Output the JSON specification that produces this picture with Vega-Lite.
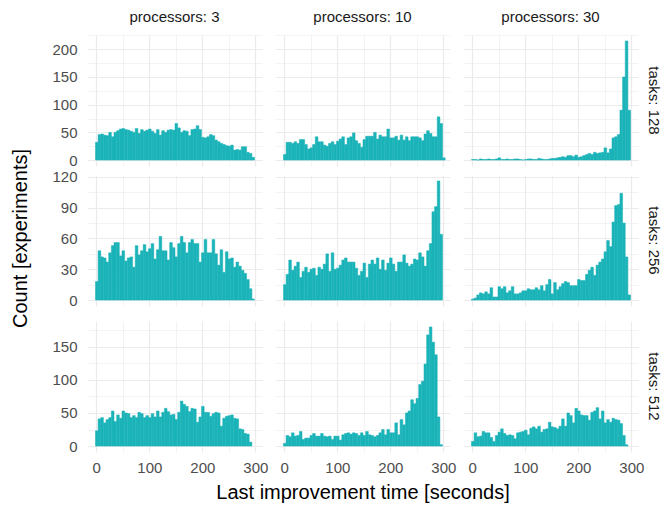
{
"$schema": "https://vega.github.io/schema/vega-lite/v6.json",
"padding": {"left": 10, "top": 10, "right": 5, "bottom": 3},
"title": {"text": "Count [experiments]", "orient": "left", "anchor": "middle", "offset": 21, "dx": 18, "font": "Liberation Sans", "fontSize": 20, "fontWeight": "normal", "color": "#000000"},
"config": {
  "view": {"stroke": null},
  "font": "Liberation Sans",
  "axis": {"gridColor": "#EBEBEB", "domain": false, "ticks": false, "labelFont": "Liberation Sans", "labelFontSize": 15, "labelColor": "#4D4D4D", "titleFont": "Liberation Sans", "titleFontSize": 20, "titleColor": "#000000", "titleFontWeight": "normal"},
  "header": {"labelFont": "Liberation Sans", "labelFontSize": 15, "labelColor": "#1A1A1A", "titleFont": "Liberation Sans", "titleFontSize": 20, "titleColor": "#000000", "titleFontWeight": "normal"}
},
"data": {"values": [
{"k":128,"p":3,"s":-2.5,"n":32},{"k":128,"p":3,"s":2.5,"n":46},{"k":128,"p":3,"s":7.5,"n":47},{"k":128,"p":3,"s":12.5,"n":45},{"k":128,"p":3,"s":17.5,"n":44},{"k":128,"p":3,"s":22.5,"n":50},{"k":128,"p":3,"s":27.5,"n":42},{"k":128,"p":3,"s":32.5,"n":50},{"k":128,"p":3,"s":37.5,"n":53},{"k":128,"p":3,"s":42.5,"n":56},
{"k":128,"p":3,"s":47.5,"n":57},{"k":128,"p":3,"s":52.5,"n":55},{"k":128,"p":3,"s":57.5,"n":54},{"k":128,"p":3,"s":62.5,"n":52},{"k":128,"p":3,"s":67.5,"n":50},{"k":128,"p":3,"s":72.5,"n":57},{"k":128,"p":3,"s":77.5,"n":48},{"k":128,"p":3,"s":82.5,"n":55},{"k":128,"p":3,"s":87.5,"n":52},{"k":128,"p":3,"s":92.5,"n":54},
{"k":128,"p":3,"s":97.5,"n":56},{"k":128,"p":3,"s":102.5,"n":52},{"k":128,"p":3,"s":107.5,"n":48},{"k":128,"p":3,"s":112.5,"n":55},{"k":128,"p":3,"s":117.5,"n":45},{"k":128,"p":3,"s":122.5,"n":53},{"k":128,"p":3,"s":127.5,"n":50},{"k":128,"p":3,"s":132.5,"n":54},{"k":128,"p":3,"s":137.5,"n":55},{"k":128,"p":3,"s":142.5,"n":54},
{"k":128,"p":3,"s":147.5,"n":66},{"k":128,"p":3,"s":152.5,"n":58},{"k":128,"p":3,"s":157.5,"n":50},{"k":128,"p":3,"s":162.5,"n":53},{"k":128,"p":3,"s":167.5,"n":52},{"k":128,"p":3,"s":172.5,"n":44},{"k":128,"p":3,"s":177.5,"n":55},{"k":128,"p":3,"s":182.5,"n":56},{"k":128,"p":3,"s":187.5,"n":62},{"k":128,"p":3,"s":192.5,"n":55},
{"k":128,"p":3,"s":197.5,"n":41},{"k":128,"p":3,"s":202.5,"n":40},{"k":128,"p":3,"s":207.5,"n":42},{"k":128,"p":3,"s":212.5,"n":46},{"k":128,"p":3,"s":217.5,"n":44},{"k":128,"p":3,"s":222.5,"n":36},{"k":128,"p":3,"s":227.5,"n":33},{"k":128,"p":3,"s":232.5,"n":30},{"k":128,"p":3,"s":237.5,"n":28},{"k":128,"p":3,"s":242.5,"n":26},
{"k":128,"p":3,"s":247.5,"n":25},{"k":128,"p":3,"s":252.5,"n":27},{"k":128,"p":3,"s":257.5,"n":18},{"k":128,"p":3,"s":262.5,"n":19},{"k":128,"p":3,"s":267.5,"n":18},{"k":128,"p":3,"s":272.5,"n":24},{"k":128,"p":3,"s":277.5,"n":24},{"k":128,"p":3,"s":282.5,"n":14},{"k":128,"p":3,"s":287.5,"n":12},{"k":128,"p":3,"s":292.5,"n":5},

{"k":128,"p":10,"s":-2.5,"n":10},{"k":128,"p":10,"s":2.5,"n":32},{"k":128,"p":10,"s":7.5,"n":32},{"k":128,"p":10,"s":12.5,"n":30},{"k":128,"p":10,"s":17.5,"n":33},{"k":128,"p":10,"s":22.5,"n":30},{"k":128,"p":10,"s":27.5,"n":37},{"k":128,"p":10,"s":32.5,"n":37},{"k":128,"p":10,"s":37.5,"n":28},{"k":128,"p":10,"s":42.5,"n":20},
{"k":128,"p":10,"s":47.5,"n":22},{"k":128,"p":10,"s":52.5,"n":28},{"k":128,"p":10,"s":57.5,"n":42},{"k":128,"p":10,"s":62.5,"n":33},{"k":128,"p":10,"s":67.5,"n":33},{"k":128,"p":10,"s":72.5,"n":27},{"k":128,"p":10,"s":77.5,"n":25},{"k":128,"p":10,"s":82.5,"n":30},{"k":128,"p":10,"s":87.5,"n":33},{"k":128,"p":10,"s":92.5,"n":28},
{"k":128,"p":10,"s":97.5,"n":34},{"k":128,"p":10,"s":102.5,"n":38},{"k":128,"p":10,"s":107.5,"n":42},{"k":128,"p":10,"s":112.5,"n":28},{"k":128,"p":10,"s":117.5,"n":40},{"k":128,"p":10,"s":122.5,"n":42},{"k":128,"p":10,"s":127.5,"n":49},{"k":128,"p":10,"s":132.5,"n":35},{"k":128,"p":10,"s":137.5,"n":30},{"k":128,"p":10,"s":142.5,"n":23},
{"k":128,"p":10,"s":147.5,"n":37},{"k":128,"p":10,"s":152.5,"n":43},{"k":128,"p":10,"s":157.5,"n":43},{"k":128,"p":10,"s":162.5,"n":43},{"k":128,"p":10,"s":167.5,"n":50},{"k":128,"p":10,"s":172.5,"n":38},{"k":128,"p":10,"s":177.5,"n":45},{"k":128,"p":10,"s":182.5,"n":42},{"k":128,"p":10,"s":187.5,"n":42},{"k":128,"p":10,"s":192.5,"n":56},
{"k":128,"p":10,"s":197.5,"n":40},{"k":128,"p":10,"s":202.5,"n":40},{"k":128,"p":10,"s":207.5,"n":43},{"k":128,"p":10,"s":212.5,"n":36},{"k":128,"p":10,"s":217.5,"n":45},{"k":128,"p":10,"s":222.5,"n":36},{"k":128,"p":10,"s":227.5,"n":42},{"k":128,"p":10,"s":232.5,"n":35},{"k":128,"p":10,"s":237.5,"n":42},{"k":128,"p":10,"s":242.5,"n":42},
{"k":128,"p":10,"s":247.5,"n":42},{"k":128,"p":10,"s":252.5,"n":40},{"k":128,"p":10,"s":257.5,"n":35},{"k":128,"p":10,"s":262.5,"n":47},{"k":128,"p":10,"s":267.5,"n":53},{"k":128,"p":10,"s":272.5,"n":48},{"k":128,"p":10,"s":277.5,"n":42},{"k":128,"p":10,"s":282.5,"n":42},{"k":128,"p":10,"s":287.5,"n":78},{"k":128,"p":10,"s":292.5,"n":66},
{"k":128,"p":10,"s":297.5,"n":4},

{"k":128,"p":30,"s":-2.5,"n":1},{"k":128,"p":30,"s":2.5,"n":1},{"k":128,"p":30,"s":7.5,"n":0},{"k":128,"p":30,"s":12.5,"n":2},{"k":128,"p":30,"s":17.5,"n":1},{"k":128,"p":30,"s":22.5,"n":1},{"k":128,"p":30,"s":27.5,"n":2},{"k":128,"p":30,"s":32.5,"n":1},{"k":128,"p":30,"s":37.5,"n":1},{"k":128,"p":30,"s":42.5,"n":2},
{"k":128,"p":30,"s":47.5,"n":4},{"k":128,"p":30,"s":52.5,"n":1},{"k":128,"p":30,"s":57.5,"n":1},{"k":128,"p":30,"s":62.5,"n":2},{"k":128,"p":30,"s":67.5,"n":1},{"k":128,"p":30,"s":72.5,"n":1},{"k":128,"p":30,"s":77.5,"n":2},{"k":128,"p":30,"s":82.5,"n":2},{"k":128,"p":30,"s":87.5,"n":1},{"k":128,"p":30,"s":92.5,"n":0},
{"k":128,"p":30,"s":97.5,"n":1},{"k":128,"p":30,"s":102.5,"n":2},{"k":128,"p":30,"s":107.5,"n":2},{"k":128,"p":30,"s":112.5,"n":1},{"k":128,"p":30,"s":117.5,"n":1},{"k":128,"p":30,"s":122.5,"n":3},{"k":128,"p":30,"s":127.5,"n":2},{"k":128,"p":30,"s":132.5,"n":1},{"k":128,"p":30,"s":137.5,"n":1},{"k":128,"p":30,"s":142.5,"n":2},
{"k":128,"p":30,"s":147.5,"n":3},{"k":128,"p":30,"s":152.5,"n":3},{"k":128,"p":30,"s":157.5,"n":4},{"k":128,"p":30,"s":162.5,"n":5},{"k":128,"p":30,"s":167.5,"n":6},{"k":128,"p":30,"s":172.5,"n":5},{"k":128,"p":30,"s":177.5,"n":8},{"k":128,"p":30,"s":182.5,"n":8},{"k":128,"p":30,"s":187.5,"n":6},{"k":128,"p":30,"s":192.5,"n":9},
{"k":128,"p":30,"s":197.5,"n":5},{"k":128,"p":30,"s":202.5,"n":6},{"k":128,"p":30,"s":207.5,"n":8},{"k":128,"p":30,"s":212.5,"n":10},{"k":128,"p":30,"s":217.5,"n":12},{"k":128,"p":30,"s":222.5,"n":10},{"k":128,"p":30,"s":227.5,"n":14},{"k":128,"p":30,"s":232.5,"n":12},{"k":128,"p":30,"s":237.5,"n":13},{"k":128,"p":30,"s":242.5,"n":14},
{"k":128,"p":30,"s":247.5,"n":22},{"k":128,"p":30,"s":252.5,"n":13},{"k":128,"p":30,"s":257.5,"n":20},{"k":128,"p":30,"s":262.5,"n":40},{"k":128,"p":30,"s":267.5,"n":42},{"k":128,"p":30,"s":272.5,"n":46},{"k":128,"p":30,"s":277.5,"n":90},{"k":128,"p":30,"s":282.5,"n":150},{"k":128,"p":30,"s":287.5,"n":215},{"k":128,"p":30,"s":292.5,"n":90},

{"k":256,"p":3,"s":-2.5,"n":18},{"k":256,"p":3,"s":2.5,"n":48},{"k":256,"p":3,"s":7.5,"n":42},{"k":256,"p":3,"s":12.5,"n":41},{"k":256,"p":3,"s":17.5,"n":37},{"k":256,"p":3,"s":22.5,"n":46},{"k":256,"p":3,"s":27.5,"n":53},{"k":256,"p":3,"s":32.5,"n":56},{"k":256,"p":3,"s":37.5,"n":56},{"k":256,"p":3,"s":42.5,"n":43},
{"k":256,"p":3,"s":47.5,"n":48},{"k":256,"p":3,"s":52.5,"n":38},{"k":256,"p":3,"s":57.5,"n":41},{"k":256,"p":3,"s":62.5,"n":42},{"k":256,"p":3,"s":67.5,"n":32},{"k":256,"p":3,"s":72.5,"n":53},{"k":256,"p":3,"s":77.5,"n":44},{"k":256,"p":3,"s":82.5,"n":48},{"k":256,"p":3,"s":87.5,"n":54},{"k":256,"p":3,"s":92.5,"n":47},
{"k":256,"p":3,"s":97.5,"n":50},{"k":256,"p":3,"s":102.5,"n":55},{"k":256,"p":3,"s":107.5,"n":40},{"k":256,"p":3,"s":112.5,"n":49},{"k":256,"p":3,"s":117.5,"n":62},{"k":256,"p":3,"s":122.5,"n":48},{"k":256,"p":3,"s":127.5,"n":48},{"k":256,"p":3,"s":132.5,"n":39},{"k":256,"p":3,"s":137.5,"n":56},{"k":256,"p":3,"s":142.5,"n":51},
{"k":256,"p":3,"s":147.5,"n":42},{"k":256,"p":3,"s":152.5,"n":55},{"k":256,"p":3,"s":157.5,"n":62},{"k":256,"p":3,"s":162.5,"n":56},{"k":256,"p":3,"s":167.5,"n":46},{"k":256,"p":3,"s":172.5,"n":56},{"k":256,"p":3,"s":177.5,"n":59},{"k":256,"p":3,"s":182.5,"n":55},{"k":256,"p":3,"s":187.5,"n":55},{"k":256,"p":3,"s":192.5,"n":37},
{"k":256,"p":3,"s":197.5,"n":46},{"k":256,"p":3,"s":202.5,"n":59},{"k":256,"p":3,"s":207.5,"n":46},{"k":256,"p":3,"s":212.5,"n":46},{"k":256,"p":3,"s":217.5,"n":59},{"k":256,"p":3,"s":222.5,"n":45},{"k":256,"p":3,"s":227.5,"n":34},{"k":256,"p":3,"s":232.5,"n":49},{"k":256,"p":3,"s":237.5,"n":27},{"k":256,"p":3,"s":242.5,"n":47},
{"k":256,"p":3,"s":247.5,"n":40},{"k":256,"p":3,"s":252.5,"n":41},{"k":256,"p":3,"s":257.5,"n":32},{"k":256,"p":3,"s":262.5,"n":37},{"k":256,"p":3,"s":267.5,"n":33},{"k":256,"p":3,"s":272.5,"n":29},{"k":256,"p":3,"s":277.5,"n":26},{"k":256,"p":3,"s":282.5,"n":20},{"k":256,"p":3,"s":287.5,"n":11},{"k":256,"p":3,"s":292.5,"n":1},

{"k":256,"p":10,"s":-2.5,"n":15},{"k":256,"p":10,"s":2.5,"n":25},{"k":256,"p":10,"s":7.5,"n":39},{"k":256,"p":10,"s":12.5,"n":29},{"k":256,"p":10,"s":17.5,"n":33},{"k":256,"p":10,"s":22.5,"n":37},{"k":256,"p":10,"s":27.5,"n":22},{"k":256,"p":10,"s":32.5,"n":28},{"k":256,"p":10,"s":37.5,"n":32},{"k":256,"p":10,"s":42.5,"n":27},
{"k":256,"p":10,"s":47.5,"n":30},{"k":256,"p":10,"s":52.5,"n":31},{"k":256,"p":10,"s":57.5,"n":24},{"k":256,"p":10,"s":62.5,"n":32},{"k":256,"p":10,"s":67.5,"n":30},{"k":256,"p":10,"s":72.5,"n":35},{"k":256,"p":10,"s":77.5,"n":45},{"k":256,"p":10,"s":82.5,"n":28},{"k":256,"p":10,"s":87.5,"n":46},{"k":256,"p":10,"s":92.5,"n":30},
{"k":256,"p":10,"s":97.5,"n":31},{"k":256,"p":10,"s":102.5,"n":34},{"k":256,"p":10,"s":107.5,"n":39},{"k":256,"p":10,"s":112.5,"n":41},{"k":256,"p":10,"s":117.5,"n":37},{"k":256,"p":10,"s":122.5,"n":37},{"k":256,"p":10,"s":127.5,"n":37},{"k":256,"p":10,"s":132.5,"n":31},{"k":256,"p":10,"s":137.5,"n":24},{"k":256,"p":10,"s":142.5,"n":28},
{"k":256,"p":10,"s":147.5,"n":36},{"k":256,"p":10,"s":152.5,"n":22},{"k":256,"p":10,"s":157.5,"n":35},{"k":256,"p":10,"s":162.5,"n":39},{"k":256,"p":10,"s":167.5,"n":35},{"k":256,"p":10,"s":172.5,"n":41},{"k":256,"p":10,"s":177.5,"n":30},{"k":256,"p":10,"s":182.5,"n":39},{"k":256,"p":10,"s":187.5,"n":29},{"k":256,"p":10,"s":192.5,"n":36},
{"k":256,"p":10,"s":197.5,"n":41},{"k":256,"p":10,"s":202.5,"n":35},{"k":256,"p":10,"s":207.5,"n":28},{"k":256,"p":10,"s":212.5,"n":37},{"k":256,"p":10,"s":217.5,"n":37},{"k":256,"p":10,"s":222.5,"n":44},{"k":256,"p":10,"s":227.5,"n":36},{"k":256,"p":10,"s":232.5,"n":33},{"k":256,"p":10,"s":237.5,"n":35},{"k":256,"p":10,"s":242.5,"n":40},
{"k":256,"p":10,"s":247.5,"n":39},{"k":256,"p":10,"s":252.5,"n":46},{"k":256,"p":10,"s":257.5,"n":42},{"k":256,"p":10,"s":262.5,"n":33},{"k":256,"p":10,"s":267.5,"n":48},{"k":256,"p":10,"s":272.5,"n":55},{"k":256,"p":10,"s":277.5,"n":86},{"k":256,"p":10,"s":282.5,"n":91},{"k":256,"p":10,"s":287.5,"n":116},{"k":256,"p":10,"s":292.5,"n":64},

{"k":256,"p":30,"s":-2.5,"n":1},{"k":256,"p":30,"s":2.5,"n":2},{"k":256,"p":30,"s":7.5,"n":5},{"k":256,"p":30,"s":12.5,"n":7},{"k":256,"p":30,"s":17.5,"n":6},{"k":256,"p":30,"s":22.5,"n":8},{"k":256,"p":30,"s":27.5,"n":6},{"k":256,"p":30,"s":32.5,"n":12},{"k":256,"p":30,"s":37.5,"n":3},{"k":256,"p":30,"s":42.5,"n":3},
{"k":256,"p":30,"s":47.5,"n":13},{"k":256,"p":30,"s":52.5,"n":11},{"k":256,"p":30,"s":57.5,"n":13},{"k":256,"p":30,"s":62.5,"n":7},{"k":256,"p":30,"s":67.5,"n":9},{"k":256,"p":30,"s":72.5,"n":13},{"k":256,"p":30,"s":77.5,"n":6},{"k":256,"p":30,"s":82.5,"n":6},{"k":256,"p":30,"s":87.5,"n":7},{"k":256,"p":30,"s":92.5,"n":9},
{"k":256,"p":30,"s":97.5,"n":9},{"k":256,"p":30,"s":102.5,"n":11},{"k":256,"p":30,"s":107.5,"n":10},{"k":256,"p":30,"s":112.5,"n":10},{"k":256,"p":30,"s":117.5,"n":12},{"k":256,"p":30,"s":122.5,"n":10},{"k":256,"p":30,"s":127.5,"n":14},{"k":256,"p":30,"s":132.5,"n":9},{"k":256,"p":30,"s":137.5,"n":15},{"k":256,"p":30,"s":142.5,"n":20},
{"k":256,"p":30,"s":147.5,"n":6},{"k":256,"p":30,"s":152.5,"n":17},{"k":256,"p":30,"s":157.5,"n":10},{"k":256,"p":30,"s":162.5,"n":13},{"k":256,"p":30,"s":167.5,"n":16},{"k":256,"p":30,"s":172.5,"n":18},{"k":256,"p":30,"s":177.5,"n":17},{"k":256,"p":30,"s":182.5,"n":14},{"k":256,"p":30,"s":187.5,"n":14},{"k":256,"p":30,"s":192.5,"n":14},
{"k":256,"p":30,"s":197.5,"n":20},{"k":256,"p":30,"s":202.5,"n":19},{"k":256,"p":30,"s":207.5,"n":19},{"k":256,"p":30,"s":212.5,"n":25},{"k":256,"p":30,"s":217.5,"n":29},{"k":256,"p":30,"s":222.5,"n":32},{"k":256,"p":30,"s":227.5,"n":24},{"k":256,"p":30,"s":232.5,"n":34},{"k":256,"p":30,"s":237.5,"n":37},{"k":256,"p":30,"s":242.5,"n":40},
{"k":256,"p":30,"s":247.5,"n":47},{"k":256,"p":30,"s":252.5,"n":58},{"k":256,"p":30,"s":257.5,"n":52},{"k":256,"p":30,"s":262.5,"n":76},{"k":256,"p":30,"s":267.5,"n":92},{"k":256,"p":30,"s":272.5,"n":93},{"k":256,"p":30,"s":277.5,"n":104},{"k":256,"p":30,"s":282.5,"n":75},{"k":256,"p":30,"s":287.5,"n":42},{"k":256,"p":30,"s":292.5,"n":5},

{"k":512,"p":3,"s":-2.5,"n":23},{"k":512,"p":3,"s":2.5,"n":41},{"k":512,"p":3,"s":7.5,"n":43},{"k":512,"p":3,"s":12.5,"n":35},{"k":512,"p":3,"s":17.5,"n":40},{"k":512,"p":3,"s":22.5,"n":43},{"k":512,"p":3,"s":27.5,"n":53},{"k":512,"p":3,"s":32.5,"n":37},{"k":512,"p":3,"s":37.5,"n":47},{"k":512,"p":3,"s":42.5,"n":42},
{"k":512,"p":3,"s":47.5,"n":53},{"k":512,"p":3,"s":52.5,"n":50},{"k":512,"p":3,"s":57.5,"n":49},{"k":512,"p":3,"s":62.5,"n":43},{"k":512,"p":3,"s":67.5,"n":46},{"k":512,"p":3,"s":72.5,"n":43},{"k":512,"p":3,"s":77.5,"n":51},{"k":512,"p":3,"s":82.5,"n":49},{"k":512,"p":3,"s":87.5,"n":43},{"k":512,"p":3,"s":92.5,"n":46},
{"k":512,"p":3,"s":97.5,"n":43},{"k":512,"p":3,"s":102.5,"n":49},{"k":512,"p":3,"s":107.5,"n":44},{"k":512,"p":3,"s":112.5,"n":53},{"k":512,"p":3,"s":117.5,"n":44},{"k":512,"p":3,"s":122.5,"n":51},{"k":512,"p":3,"s":127.5,"n":57},{"k":512,"p":3,"s":132.5,"n":52},{"k":512,"p":3,"s":137.5,"n":47},{"k":512,"p":3,"s":142.5,"n":48},
{"k":512,"p":3,"s":147.5,"n":40},{"k":512,"p":3,"s":152.5,"n":51},{"k":512,"p":3,"s":157.5,"n":68},{"k":512,"p":3,"s":162.5,"n":63},{"k":512,"p":3,"s":167.5,"n":60},{"k":512,"p":3,"s":172.5,"n":52},{"k":512,"p":3,"s":177.5,"n":57},{"k":512,"p":3,"s":182.5,"n":56},{"k":512,"p":3,"s":187.5,"n":36},{"k":512,"p":3,"s":192.5,"n":44},
{"k":512,"p":3,"s":197.5,"n":60},{"k":512,"p":3,"s":202.5,"n":51},{"k":512,"p":3,"s":207.5,"n":51},{"k":512,"p":3,"s":212.5,"n":45},{"k":512,"p":3,"s":217.5,"n":49},{"k":512,"p":3,"s":222.5,"n":51},{"k":512,"p":3,"s":227.5,"n":50},{"k":512,"p":3,"s":232.5,"n":30},{"k":512,"p":3,"s":237.5,"n":42},{"k":512,"p":3,"s":242.5,"n":45},
{"k":512,"p":3,"s":247.5,"n":46},{"k":512,"p":3,"s":252.5,"n":47},{"k":512,"p":3,"s":257.5,"n":42},{"k":512,"p":3,"s":262.5,"n":41},{"k":512,"p":3,"s":267.5,"n":26},{"k":512,"p":3,"s":272.5,"n":25},{"k":512,"p":3,"s":277.5,"n":19},{"k":512,"p":3,"s":282.5,"n":18},{"k":512,"p":3,"s":287.5,"n":6},

{"k":512,"p":10,"s":-2.5,"n":4},{"k":512,"p":10,"s":2.5,"n":16},{"k":512,"p":10,"s":7.5,"n":14},{"k":512,"p":10,"s":12.5,"n":20},{"k":512,"p":10,"s":17.5,"n":15},{"k":512,"p":10,"s":22.5,"n":16},{"k":512,"p":10,"s":27.5,"n":22},{"k":512,"p":10,"s":32.5,"n":10},{"k":512,"p":10,"s":37.5,"n":12},{"k":512,"p":10,"s":42.5,"n":12},
{"k":512,"p":10,"s":47.5,"n":16},{"k":512,"p":10,"s":52.5,"n":19},{"k":512,"p":10,"s":57.5,"n":15},{"k":512,"p":10,"s":62.5,"n":15},{"k":512,"p":10,"s":67.5,"n":19},{"k":512,"p":10,"s":72.5,"n":15},{"k":512,"p":10,"s":77.5,"n":14},{"k":512,"p":10,"s":82.5,"n":15},{"k":512,"p":10,"s":87.5,"n":10},{"k":512,"p":10,"s":92.5,"n":15},
{"k":512,"p":10,"s":97.5,"n":15},{"k":512,"p":10,"s":102.5,"n":9},{"k":512,"p":10,"s":107.5,"n":17},{"k":512,"p":10,"s":112.5,"n":19},{"k":512,"p":10,"s":117.5,"n":20},{"k":512,"p":10,"s":122.5,"n":18},{"k":512,"p":10,"s":127.5,"n":20},{"k":512,"p":10,"s":132.5,"n":19},{"k":512,"p":10,"s":137.5,"n":16},{"k":512,"p":10,"s":142.5,"n":20},
{"k":512,"p":10,"s":147.5,"n":16},{"k":512,"p":10,"s":152.5,"n":22},{"k":512,"p":10,"s":157.5,"n":17},{"k":512,"p":10,"s":162.5,"n":16},{"k":512,"p":10,"s":167.5,"n":14},{"k":512,"p":10,"s":172.5,"n":16},{"k":512,"p":10,"s":177.5,"n":20},{"k":512,"p":10,"s":182.5,"n":25},{"k":512,"p":10,"s":187.5,"n":17},{"k":512,"p":10,"s":192.5,"n":25},
{"k":512,"p":10,"s":197.5,"n":20},{"k":512,"p":10,"s":202.5,"n":20},{"k":512,"p":10,"s":207.5,"n":35},{"k":512,"p":10,"s":212.5,"n":17},{"k":512,"p":10,"s":217.5,"n":40},{"k":512,"p":10,"s":222.5,"n":32},{"k":512,"p":10,"s":227.5,"n":50},{"k":512,"p":10,"s":232.5,"n":53},{"k":512,"p":10,"s":237.5,"n":70},{"k":512,"p":10,"s":242.5,"n":64},
{"k":512,"p":10,"s":247.5,"n":72},{"k":512,"p":10,"s":252.5,"n":93},{"k":512,"p":10,"s":257.5,"n":98},{"k":512,"p":10,"s":262.5,"n":124},{"k":512,"p":10,"s":267.5,"n":168},{"k":512,"p":10,"s":272.5,"n":180},{"k":512,"p":10,"s":277.5,"n":157},{"k":512,"p":10,"s":282.5,"n":138},{"k":512,"p":10,"s":287.5,"n":44},{"k":512,"p":10,"s":292.5,"n":2},

{"k":512,"p":30,"s":-2.5,"n":7},{"k":512,"p":30,"s":2.5,"n":20},{"k":512,"p":30,"s":7.5,"n":14},{"k":512,"p":30,"s":12.5,"n":15},{"k":512,"p":30,"s":17.5,"n":22},{"k":512,"p":30,"s":22.5,"n":20},{"k":512,"p":30,"s":27.5,"n":20},{"k":512,"p":30,"s":32.5,"n":13},{"k":512,"p":30,"s":37.5,"n":7},{"k":512,"p":30,"s":42.5,"n":16},
{"k":512,"p":30,"s":47.5,"n":21},{"k":512,"p":30,"s":52.5,"n":26},{"k":512,"p":30,"s":57.5,"n":19},{"k":512,"p":30,"s":62.5,"n":16},{"k":512,"p":30,"s":67.5,"n":17},{"k":512,"p":30,"s":72.5,"n":16},{"k":512,"p":30,"s":77.5,"n":11},{"k":512,"p":30,"s":82.5,"n":20},{"k":512,"p":30,"s":87.5,"n":21},{"k":512,"p":30,"s":92.5,"n":22},
{"k":512,"p":30,"s":97.5,"n":24},{"k":512,"p":30,"s":102.5,"n":17},{"k":512,"p":30,"s":107.5,"n":27},{"k":512,"p":30,"s":112.5,"n":29},{"k":512,"p":30,"s":117.5,"n":26},{"k":512,"p":30,"s":122.5,"n":30},{"k":512,"p":30,"s":127.5,"n":21},{"k":512,"p":30,"s":132.5,"n":25},{"k":512,"p":30,"s":137.5,"n":26},{"k":512,"p":30,"s":142.5,"n":36},
{"k":512,"p":30,"s":147.5,"n":29},{"k":512,"p":30,"s":152.5,"n":28},{"k":512,"p":30,"s":157.5,"n":26},{"k":512,"p":30,"s":162.5,"n":30},{"k":512,"p":30,"s":167.5,"n":41},{"k":512,"p":30,"s":172.5,"n":30},{"k":512,"p":30,"s":177.5,"n":50},{"k":512,"p":30,"s":182.5,"n":46},{"k":512,"p":30,"s":187.5,"n":35},{"k":512,"p":30,"s":192.5,"n":57},
{"k":512,"p":30,"s":197.5,"n":53},{"k":512,"p":30,"s":202.5,"n":47},{"k":512,"p":30,"s":207.5,"n":46},{"k":512,"p":30,"s":212.5,"n":46},{"k":512,"p":30,"s":217.5,"n":39},{"k":512,"p":30,"s":222.5,"n":51},{"k":512,"p":30,"s":227.5,"n":53},{"k":512,"p":30,"s":232.5,"n":58},{"k":512,"p":30,"s":237.5,"n":41},{"k":512,"p":30,"s":242.5,"n":53},
{"k":512,"p":30,"s":247.5,"n":35},{"k":512,"p":30,"s":252.5,"n":40},{"k":512,"p":30,"s":257.5,"n":36},{"k":512,"p":30,"s":262.5,"n":42},{"k":512,"p":30,"s":267.5,"n":40},{"k":512,"p":30,"s":272.5,"n":39},{"k":512,"p":30,"s":277.5,"n":34},{"k":512,"p":30,"s":282.5,"n":16},{"k":512,"p":30,"s":287.5,"n":2}
]},
"spacing": 0,
"vconcat": [
{
  "transform": [{"filter": "datum.k === 128"}],
  "facet": {
    "row": {"field": "k", "type": "ordinal", "header": {"title": null, "labelOrient": "right", "labelAngle": 90, "labelPadding": 8, "labelExpr": "'tasks: ' + datum.value"}},
    "column": {"field": "p", "type": "ordinal", "header": {"title": null, "labelPadding": 10, "labelExpr": "'processors: ' + datum.value"}}
  },
  "spacing": {"row": 0, "column": 13},
  "spec": {
    "width": 175, "height": 131,
    "mark": {"type": "bar", "color": "#1AB3B8", "binSpacing": 0, "stroke": "#1AB3B8", "strokeWidth": 0.5},
    "encoding": {
      "x": {"field": "s", "type": "quantitative", "bin": {"binned": true, "step": 5},
        "scale": {"domain": [-17.5, 312.5], "nice": false, "zero": false},
        "axis": {"title": null, "labels": false, "grid": true, "minExtent": 0, "maxExtent": 0, "values": [0, 50, 100, 150, 200, 250, 300], "gridWidth": {"condition": {"test": "datum.value % 100 === 0", "value": 1.2}, "value": 0.6}}},
      "y": {"field": "n", "type": "quantitative",
        "scale": {"domain": [-10.75, 225.75], "nice": false, "zero": false},
        "axis": {"title": null, "labelPadding": 10, "values": [0, 25, 50, 75, 100, 125, 150, 175, 200, 225], "labelExpr": "datum.value % 50 === 0 ? datum.label : ''", "gridWidth": {"condition": {"test": "datum.value % 50 === 0", "value": 1.2}, "value": 0.6}}}
    }
  }
},
{
  "spacing": 12,
  "vconcat": [
  {
    "transform": [{"filter": "datum.k === 256"}],
    "facet": {
      "row": {"field": "k", "type": "ordinal", "header": {"title": null, "labelOrient": "right", "labelAngle": 90, "labelPadding": 8, "labelExpr": "'tasks: ' + datum.value"}},
      "column": {"field": "p", "type": "ordinal", "header": {"title": null, "labels": false, "labelPadding": 0}}
    },
    "spacing": {"row": 0, "column": 13},
    "spec": {
      "width": 175, "height": 131,
      "mark": {"type": "bar", "color": "#1AB3B8", "binSpacing": 0, "stroke": "#1AB3B8", "strokeWidth": 0.5},
      "encoding": {
        "x": {"field": "s", "type": "quantitative", "bin": {"binned": true, "step": 5},
          "scale": {"domain": [-17.5, 312.5], "nice": false, "zero": false},
          "axis": {"title": null, "labels": false, "grid": true, "minExtent": 0, "maxExtent": 0, "values": [0, 50, 100, 150, 200, 250, 300], "gridWidth": {"condition": {"test": "datum.value % 100 === 0", "value": 1.2}, "value": 0.6}}},
        "y": {"field": "n", "type": "quantitative",
          "scale": {"domain": [-5.8, 121.8], "nice": false, "zero": false},
          "axis": {"title": null, "labelPadding": 10, "values": [0, 15, 30, 45, 60, 75, 90, 105, 120], "labelExpr": "datum.value % 30 === 0 ? datum.label : ''", "gridWidth": {"condition": {"test": "datum.value % 30 === 0", "value": 1.2}, "value": 0.6}}}
      }
    }
  },
  {
    "transform": [{"filter": "datum.k === 512"}],
    "facet": {
      "row": {"field": "k", "type": "ordinal", "header": {"title": null, "labelOrient": "right", "labelAngle": 90, "labelPadding": 8, "labelExpr": "'tasks: ' + datum.value"}},
      "column": {"field": "p", "type": "ordinal", "title": "Last improvement time [seconds]", "header": {"labels": false, "labelPadding": 0, "titleOrient": "bottom", "titlePadding": -2}}
    },
    "spacing": {"row": 0, "column": 13},
    "spec": {
      "width": 175, "height": 131,
      "mark": {"type": "bar", "color": "#1AB3B8", "binSpacing": 0, "stroke": "#1AB3B8", "strokeWidth": 0.5},
      "encoding": {
        "x": {"field": "s", "type": "quantitative", "bin": {"binned": true, "step": 5},
          "scale": {"domain": [-17.5, 312.5], "nice": false, "zero": false},
          "axis": {"title": null, "grid": true, "labelPadding": 8, "values": [0, 50, 100, 150, 200, 250, 300], "labelExpr": "datum.value % 100 === 0 ? datum.label : ''", "gridWidth": {"condition": {"test": "datum.value % 100 === 0", "value": 1.2}, "value": 0.6}}},
        "y": {"field": "n", "type": "quantitative",
          "scale": {"domain": [-9, 189], "nice": false, "zero": false},
          "axis": {"title": null, "labelPadding": 10, "values": [0, 25, 50, 75, 100, 125, 150, 175], "labelExpr": "datum.value % 50 === 0 ? datum.label : ''", "gridWidth": {"condition": {"test": "datum.value % 50 === 0", "value": 1.2}, "value": 0.6}}}
      }
    }
  }
  ]
}
]
}
